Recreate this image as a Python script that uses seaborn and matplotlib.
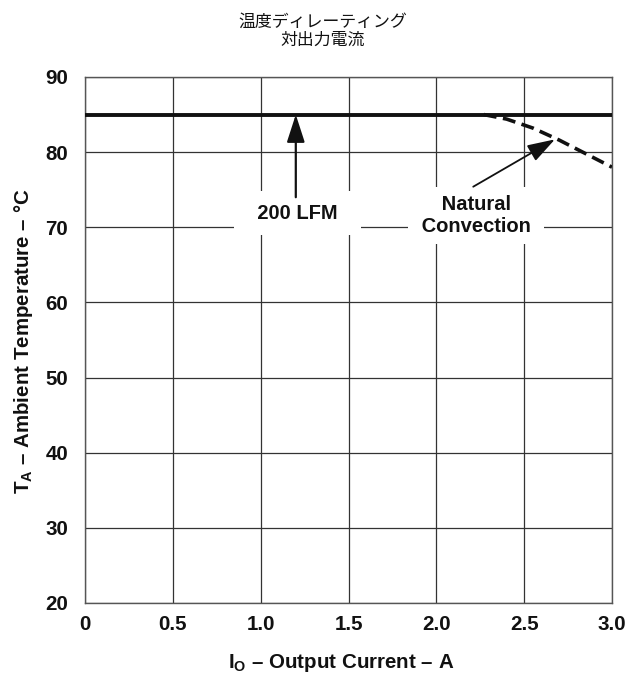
import matplotlib
matplotlib.use("Agg")
import matplotlib.pyplot as plt
import seaborn as sns
import pandas as pd

# Derating data: ambient temperature limit vs output current
lfm200_current = [0.0, 3.0]
lfm200_temp = [85.0, 85.0]

natural_current = [2.27, 2.40, 2.55, 2.70, 2.85, 3.0]
natural_temp = [85.0, 84.4, 83.2, 81.6, 79.8, 78.0]

x_ticks = [0, 0.5, 1.0, 1.5, 2.0, 2.5, 3.0]
x_tick_labels = ["0", "0.5", "1.0", "1.5", "2.0", "2.5", "3.0"]
y_ticks = [20, 30, 40, 50, 60, 70, 80, 90]

sns.set_style("white")
plt.rcParams["font.family"] = ["Liberation Sans", "DejaVu Sans"]
plt.rcParams["mathtext.fontset"] = "custom"
plt.rcParams["mathtext.rm"] = "Liberation Sans:bold"
plt.rcParams["mathtext.bf"] = "Liberation Sans:bold"

fig = plt.figure(figsize=(6.28, 6.74), dpi=100)
ax = fig.add_axes([85 / 628, 1 - 603 / 674, 527 / 628, 526 / 674])

df_lfm = pd.DataFrame({"current": lfm200_current, "temp": lfm200_temp})
df_nat = pd.DataFrame({"current": natural_current, "temp": natural_temp})

sns.lineplot(data=df_lfm, x="current", y="temp", ax=ax, color="#111111",
             linewidth=2.8, zorder=4)
sns.lineplot(data=df_nat, x="current", y="temp", ax=ax, color="#111111",
             linewidth=2.6, linestyle=(0, (3.6, 1.8)), zorder=4)

ax.set_xlim(0, 3.0)
ax.set_ylim(20, 90)
ax.set_xticks(x_ticks)
ax.set_xticklabels(x_tick_labels)
ax.set_yticks(y_ticks)
ax.grid(True, color="#333333", linewidth=0.9)
ax.set_axisbelow(True)
for s in ax.spines.values():
    s.set_color("#555555")
    s.set_linewidth(1.0)
ax.tick_params(axis="both", length=0, labelsize=14.8, colors="#111111")
ax.tick_params(axis="x", pad=9)
ax.tick_params(axis="y", pad=12)
for lab in ax.get_xticklabels() + ax.get_yticklabels():
    lab.set_fontweight("bold")

ax.set_xlabel(r"$\mathregular{I_O}$ – Output Current – A", fontsize=14.8,
              fontweight="bold", color="#111111")
ax.xaxis.set_label_coords(0.487, -0.094)
ax.set_ylabel(r"$\mathregular{T_A}$ – Ambient Temperature – °C", fontsize=14.8,
              fontweight="bold", color="#111111")
ax.yaxis.set_label_coords(-0.095, 0.497)

# Labels with white boxes that mask the grid behind them
ax.text(1.21, 71.9, "  200 LFM  ", ha="center", va="center", fontsize=14.5,
        fontweight="bold", color="#111111", zorder=6,
        bbox=dict(boxstyle="square,pad=0.62", fc="white", ec="none"))
ax.text(2.225, 71.6, " Natural \n Convection ", ha="center", va="center",
        fontsize=14.5, fontweight="bold", color="#111111", zorder=6,
        linespacing=1.2,
        bbox=dict(boxstyle="square,pad=0.4", fc="white", ec="none"))

# Pointer arrows to each curve
arrow_style = "-|>,head_length=1.7,head_width=0.55"
ax.annotate("", xy=(1.20, 85.0), xytext=(1.20, 74.0), zorder=7,
            arrowprops=dict(arrowstyle=arrow_style, color="#111111", lw=1.6,
                            shrinkA=0, shrinkB=0))
ax.annotate("", xy=(2.675, 81.7), xytext=(2.21, 75.4), zorder=7,
            arrowprops=dict(arrowstyle=arrow_style, color="#111111", lw=1.3,
                            shrinkA=0, shrinkB=0))

fig.text(0.514, 1 - 22 / 674, "温度ディレーティング", ha="center", va="center",
         fontsize=12.2, family=["Noto Sans CJK JP", "DejaVu Sans"], color="#111111")
fig.text(0.514, 1 - 40 / 674, "対出力電流", ha="center", va="center",
         fontsize=12.2, family=["Noto Sans CJK JP", "DejaVu Sans"], color="#111111")

fig.savefig("out.png", dpi=100, facecolor="white")
